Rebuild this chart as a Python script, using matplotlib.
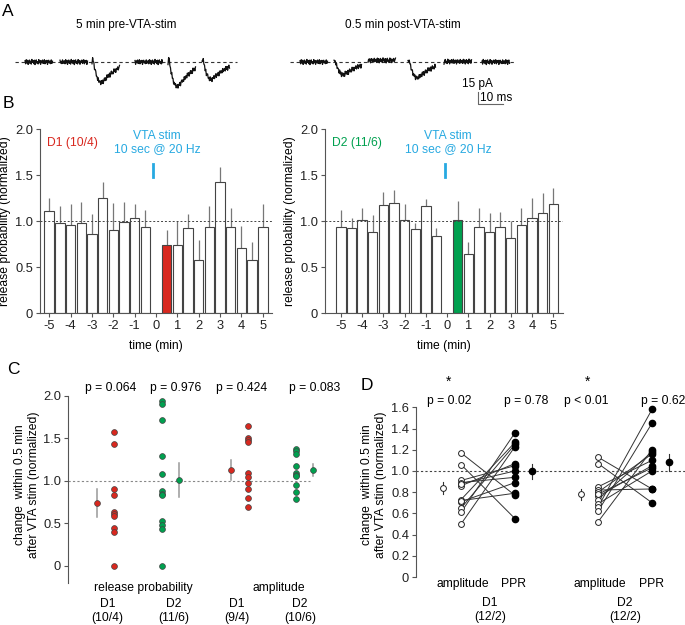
import numpy as np
import matplotlib
matplotlib.use('Agg')
import matplotlib.pyplot as plt

plt.rcParams['font.family'] = ['Liberation Sans', 'DejaVu Sans']
plt.rcParams['axes.unicode_minus'] = False

W, H = 685, 625
RED = '#d8281f'
GREEN = '#00a04f'
BLUE = '#27a9e1'
AXC = '#555555'
FS = 8.7

# ---------------- panel A : example sweeps ----------------
epsc_shape = [0, 0.15, 0.05, -0.1, -0.25, -0.4, -0.52, -0.63, -0.72, -0.8,
              -0.86, -0.91, -0.95, -0.98, -1.0, -1.0, -0.98, -0.95,
              -0.92, -0.89, -0.86, -0.83, -0.8, -0.77, -0.74, -0.71, -0.68,
              -0.65, -0.62, -0.6, -0.57, -0.54, -0.52, -0.5, -0.47, -0.45,
              -0.43, -0.41, -0.39, -0.37, -0.35, -0.33, -0.31, -0.29, -0.27]
noise = [0.8, -1.2, 1.5, -0.6, 1.1, -1.6, 0.4, 1.3, -0.9, 0.6,
         -1.4, 1.7, -0.3, 0.9, -1.1, 1.2, -1.7, 0.5, 1.4, -0.8,
         0.2, -1.3, 1.6, -0.5, 1.0, -1.5, 0.7, -0.2, 1.3, -1.0,
         0.3, 1.5, -1.2, 0.8, -0.4, 1.1, -1.6, 0.6, 1.2, -0.7,
         0.4, -1.1, 1.4, -0.9, 0.5]
pre_start = [10, 24, 36.8, 54, 67.2, 80.8]      # ms
pre_amp = [0, 0, 26, 0, 31, 22]                  # pA
post_start = [120, 133.6, 147.2, 163.2, 177.6, 192.8]
post_amp = [0, 16, 0, 20, 0, 0]
post_offset = [0, 0, 2, 0, 0.5, 0]
noise_shift = [0, 7, 13, 21, 29, 36]

# ---------------- panel B : release probability time course ----------------
t_bins = [-5, -4.5, -4, -3.5, -3, -2.5, -2, -1.5, -1, -0.5,
          0.5, 1, 1.5, 2, 2.5, 3, 3.5, 4, 4.5, 5]
d1_rp = [1.11, 0.98, 0.96, 0.98, 0.86, 1.25, 0.90, 0.99, 1.03, 0.93,
         0.74, 0.74, 0.92, 0.58, 0.94, 1.42, 0.93, 0.71, 0.58, 0.93]
d1_err = [0.14, 0.18, 0.23, 0.23, 0.22, 0.17, 0.30, 0.22, 0.16, 0.19,
          0.16, 0.26, 0.16, 0.21, 0.22, 0.17, 0.21, 0.24, 0.19, 0.26]
d2_rp = [0.93, 0.92, 1.01, 0.88, 1.17, 1.20, 1.01, 0.91, 1.16, 0.84,
         1.01, 0.64, 0.93, 0.88, 0.93, 0.81, 0.96, 1.03, 1.09, 1.18]
d2_err = [0.19, 0.11, 0.13, 0.18, 0.14, 0.14, 0.17, 0.07, 0.08, 0.08,
          0.21, 0.13, 0.21, 0.21, 0.17, 0.19, 0.18, 0.22, 0.21, 0.18]
stim_bin = 10

# ---------------- panel C : change within 0.5 min ----------------
c_d1_rp = [1.58, 1.43, 0.91, 0.83, 0.63, 0.61, 0.59, 0.44, 0.40, 0.0]
c_d2_rp = [1.94, 1.91, 1.72, 1.29, 1.08, 0.88, 0.85, 0.83, 0.53, 0.48, 0.43, 0.0]
c_d1_amp = [1.65, 1.51, 1.48, 1.46, 1.09, 1.04, 0.98, 0.90, 0.80, 0.69]
c_d2_amp = [1.38, 1.35, 1.32, 1.18, 1.09, 1.07, 1.06, 0.95, 0.87, 0.79]
c_mean = [0.74, 1.01, 1.13, 1.13]
c_lo = [0.57, 0.81, 1.01, 1.06]
c_hi = [0.90, 1.21, 1.24, 1.20]
c_pvals = ['p = 0.064', 'p = 0.976', 'p = 0.424', 'p = 0.083']
c_groups = ['D1\n(10/4)', 'D2\n(11/6)', 'D1\n(9/4)', 'D2\n(10/6)']

# ---------------- panel D : amplitude vs PPR ----------------
d1_amp = [1.17, 1.06, 0.91, 0.89, 0.86, 0.73, 0.71, 0.65, 0.61, 0.50, 0.88, 0.72]
d1_ppr = [0.77, 0.55, 1.05, 0.94, 1.07, 1.27, 0.89, 1.25, 1.36, 1.23, 1.00, 0.79]
d2_amp = [1.13, 1.07, 0.85, 0.82, 0.80, 0.76, 0.73, 0.69, 0.66, 0.62, 0.52, 0.78]
d2_ppr = [0.83, 0.70, 1.10, 0.83, 1.16, 1.05, 1.18, 1.00, 1.58, 1.45, 1.20, 1.03]
d_mean = [0.84, 1.00, 0.78, 1.085]
d_lo = [0.78, 0.92, 0.73, 1.00]
d_hi = [0.90, 1.07, 0.83, 1.16]
d_pvals = ['p = 0.02', 'p = 0.78', 'p < 0.01', 'p = 0.62']


fig = plt.figure(figsize=(W / 100, H / 100), dpi=100)


def px_axes(x0, y0, x1, y1):
    return fig.add_axes([x0 / W, 1 - y1 / H, (x1 - x0) / W, (y1 - y0) / H])


def style_axis(ax):
    for s in ['top', 'right']:
        ax.spines[s].set_visible(False)
    for s in ['left', 'bottom']:
        ax.spines[s].set_color(AXC)
        ax.spines[s].set_linewidth(0.8)
    ax.tick_params(colors=AXC, labelcolor='#222222', labelsize=9.3,
                   length=3, width=0.8, pad=2)


# panel letters
for lab, x, y in [('A', 8, 12), ('B', 8, 104), ('C', 13, 370), ('D', 367, 386)]:
    fig.text(x / W, 1 - y / H, lab, fontsize=12.5, ha='center', va='center')

# ---- A ----
axA = px_axes(0, 35, 685, 110)
axA.set_xlim(0, 274)
axA.set_ylim(-60, 33.75)
axA.axis('off')
sweep_t = np.arange(len(epsc_shape)) * 0.25
for starts, amps, offs in [(pre_start, pre_amp, [0] * 6), (post_start, post_amp, post_offset)]:
    for i, (t0, a) in enumerate(zip(starts, amps)):
        nz = 1.9 * np.roll(noise, noise_shift[i])
        y = a * np.array(epsc_shape) + nz + offs[i]
        axA.plot(t0 + sweep_t, y, color='#111111', lw=0.9)
axA.plot([6, 94.8], [0, 0], ls=(0, (3, 2.5)), color='#333333', lw=0.8, zorder=0)
axA.plot([116, 206], [0, 0], ls=(0, (3, 2.5)), color='#333333', lw=0.8, zorder=0)
axA.plot([191.2, 191.2, 201.2], [-37.5, -52.5, -52.5], color='#666666', lw=0.8)
axA.text(185, -27.5, '15 pA', fontsize=8.5, va='center')
axA.text(192, -45.5, '10 ms', fontsize=8.5, va='center')
fig.text(126 / W, 1 - 25 / H, '5 min pre-VTA-stim', fontsize=8.5, ha='center', va='center')
fig.text(403 / W, 1 - 25 / H, '0.5 min post-VTA-stim', fontsize=8.5, ha='center', va='center')

# ---- B ----
for (x0, x1, xl), vals, errs, col, title in [
        ((40, 272, (-5.43, 5.43)), d1_rp, d1_err, RED, 'D1 (10/4)'),
        ((325, 563, (-5.75, 5.46)), d2_rp, d2_err, GREEN, 'D2 (11/6)')]:
    ax = px_axes(x0, 129, x1, 313)
    style_axis(ax)
    ax.set_xlim(*xl)
    ax.set_ylim(0, 2)
    fc = ['white'] * len(t_bins)
    fc[stim_bin] = col
    ax.errorbar(t_bins, vals, yerr=[np.zeros(len(errs)), errs], fmt='none',
                ecolor='#777777', elinewidth=0.9, capsize=0, zorder=1)
    ax.bar(t_bins, vals, width=0.44, color=fc, edgecolor='#444444', linewidth=0.8, zorder=2)
    ax.axhline(1.0, color='#444444', lw=0.7, ls=(0, (2, 2)), zorder=3)
    ax.set_xticks(range(-5, 6))
    ax.set_xticklabels([str(v) for v in range(-5, 6)])
    ax.set_yticks([0, 0.5, 1.0, 1.5, 2.0])
    ax.set_yticklabels(['0', '0.5', '1.0', '1.5', '2.0'])
    ax.set_xlabel('time (min)', fontsize=FS, labelpad=6)
    ax.set_ylabel('release probability (normalized)', fontsize=FS, labelpad=3)
    ax.text(xl[0] + 0.35, 1.85, title, color=col, fontsize=FS, va='center')
    ax.text(0.05, 1.85, 'VTA stim\n10 sec @ 20 Hz', color=BLUE, fontsize=FS,
            ha='center', va='center', linespacing=1.15)
    ax.plot([-0.12, -0.12], [1.48, 1.62], color=BLUE, lw=2)

# ---- C ----
axC = px_axes(68, 396, 330, 582.7)
style_axis(axC)
axC.spines['bottom'].set_visible(False)
axC.set_xlim(0, 10)
axC.set_ylim(-0.2, 2.0)
axC.set_xticks([])
axC.set_yticks([0, 0.5, 1.0, 1.5, 2.0])
axC.set_yticklabels(['0', '0.5', '1.0', '1.5', '2.0'])
axC.plot([0, 9.25], [1, 1], color='#888888', lw=0.8, ls=(0, (2, 2)))
c_dot_x = [1.76, 3.59, 6.87, 8.70]
c_mean_x = [1.11, 4.24, 6.22, 9.35]
c_cols = [RED, GREEN, RED, GREEN]
for i, vals in enumerate([c_d1_rp, c_d2_rp, c_d1_amp, c_d2_amp]):
    axC.plot([c_dot_x[i]] * len(vals), vals, 'o', color=c_cols[i], mec='#444444',
             mew=0.5, ms=4.2, clip_on=False, zorder=3)
    axC.plot([c_mean_x[i]] * 2, [c_lo[i], c_hi[i]], color='#999999', lw=1.1, zorder=2)
    axC.plot(c_mean_x[i], c_mean[i], 'o', color=c_cols[i], mec='#444444', mew=0.5,
             ms=4.2, zorder=3)
for xp, p in zip([1.64, 4.12, 6.64, 9.43], c_pvals):
    axC.text(xp, 2.10, p, fontsize=FS, ha='center', va='center', clip_on=False)
axC.text(2.86, -0.26, 'release probability', fontsize=FS, ha='center', va='center')
axC.text(8.05, -0.26, 'amplitude', fontsize=FS, ha='center', va='center')
for xp, g in zip([1.50, 4.04, 6.45, 8.85], c_groups):
    axC.text(xp, -0.53, g, fontsize=FS, ha='center', va='center', linespacing=1.2)
fig.text(27 / W, 1 - 485 / H, 'change  within 0.5 min\nafter VTA stim (normalized)',
         rotation=90, fontsize=FS, ha='center', va='center', linespacing=1.15)

# ---- D ----
axD = px_axes(416, 407.3, 685, 577)
style_axis(axD)
axD.spines['bottom'].set_visible(False)
axD.set_xlim(0, 10.27)
axD.set_ylim(0, 1.6)
axD.set_xticks([])
axD.set_yticks(np.arange(0, 1.61, 0.2))
axD.set_yticklabels(['0', '0.2', '0.4', '0.6', '0.8', '1.0', '1.2', '1.4', '1.6'])
axD.plot([0, 10.27], [1, 1], color='#444444', lw=0.8, ls=(0, (2, 2)))
for xa, xp, amp, ppr in [(1.72, 3.78, d1_amp, d1_ppr), (6.95, 9.01, d2_amp, d2_ppr)]:
    for a, p in zip(amp, ppr):
        axD.plot([xa, xp], [a, p], color='#333333', lw=0.7, zorder=1)
    axD.plot([xa] * len(amp), amp, 'o', mfc='white', mec='#222222', mew=0.7, ms=4.2, zorder=3)
    axD.plot([xp] * len(ppr), ppr, 'o', color='black', ms=4.5, zorder=3, clip_on=False)
d_mean_x = [1.03, 4.43, 6.30, 9.66]
for i in range(4):
    axD.plot([d_mean_x[i]] * 2, [d_lo[i], d_hi[i]], color='#333333', lw=0.8, zorder=2)
    if i % 2 == 0:
        axD.plot(d_mean_x[i], d_mean[i], 'o', mfc='white', mec='#222222', mew=0.7, ms=4.2, zorder=3)
    else:
        axD.plot(d_mean_x[i], d_mean[i], 'o', color='black', ms=4.5, zorder=3)
for xp, p in zip([1.26, 4.2, 6.49, 9.43], d_pvals):
    axD.text(xp, 1.66, p, fontsize=FS, ha='center', va='center', clip_on=False)
for xp in [1.26, 6.53]:
    axD.text(xp, 1.84, '*', fontsize=10, ha='center', va='center')
for xp, lab in [(1.79, 'amplitude'), (3.74, 'PPR'), (7.02, 'amplitude'), (9.01, 'PPR')]:
    axD.text(xp, -0.066, lab, fontsize=FS, ha='center', va='center')
for xp, g in [(2.82, 'D1\n(12/2)'), (7.98, 'D2\n(12/2)')]:
    axD.text(xp, -0.31, g, fontsize=FS, ha='center', va='center', linespacing=1.2)
fig.text(374 / W, 1 - 485 / H, 'change  within 0.5 min\nafter VTA stim (normalized)',
         rotation=90, fontsize=FS, ha='center', va='center', linespacing=1.15)

fig.savefig('out.png', dpi=100)
